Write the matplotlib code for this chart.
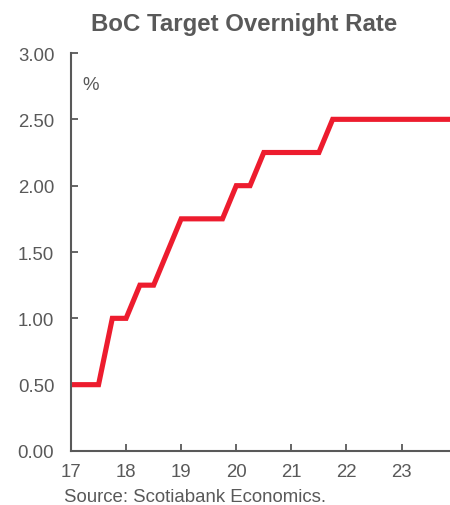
import matplotlib
matplotlib.use("Agg")
import matplotlib.pyplot as plt

# Quarterly target overnight rate (%), 2017Q1 onward; x in years since 2000
quarters = [17.00, 17.25, 17.50, 17.75, 18.00, 18.25, 18.50, 18.75,
            19.00, 19.25, 19.50, 19.75, 20.00, 20.25, 20.50, 20.75,
            21.00, 21.25, 21.50, 21.75, 22.00, 22.25, 22.50, 22.75,
            23.00, 23.25, 23.50, 23.75, 24.00]
rate = [0.50, 0.50, 0.50, 1.00, 1.00, 1.25, 1.25, 1.50,
        1.75, 1.75, 1.75, 1.75, 2.00, 2.00, 2.25, 2.25,
        2.25, 2.25, 2.25, 2.50, 2.50, 2.50, 2.50, 2.50,
        2.50, 2.50, 2.50, 2.50, 2.50]
x_ticks = [17, 18, 19, 20, 21, 22, 23]
y_ticks = [0.0, 0.5, 1.0, 1.5, 2.0, 2.5, 3.0]

plt.rcParams['font.family'] = ['Liberation Sans', 'DejaVu Sans']
grey = '#595959'
red = '#ED1C2E'
fs = 13.4

fig = plt.figure(figsize=(4.5, 5.06), dpi=100)
ax = fig.add_axes([71 / 450, 54 / 506, 1 - 71 / 450, (452 - 54) / 506])

ax.plot(quarters, rate, color=red, lw=3.7, solid_joinstyle='miter',
        solid_capstyle='butt')

ax.set_xlim(17, 23.88)
ax.set_ylim(0, 3)
ax.set_xticks(x_ticks)
ax.set_xticklabels([str(t) for t in x_ticks])
ax.set_yticks(y_ticks)
ax.set_yticklabels([f"{t:.2f}" for t in y_ticks])

for side in ('top', 'right'):
    ax.spines[side].set_visible(False)
for side in ('left', 'bottom'):
    ax.spines[side].set_color(grey)
    ax.spines[side].set_linewidth(1.5)

ax.tick_params(axis='both', direction='in', length=5, width=1.3,
               color=grey, labelcolor=grey, labelsize=fs)
ax.tick_params(axis='y', pad=12)
ax.tick_params(axis='x', pad=9)

fig.text(82 / 450, 1 - 86 / 506, '%', fontsize=fs, color=grey,
         va='center', ha='left')

fig.text(244 / 450, 1 - 25 / 506, 'BoC Target Overnight Rate',
         fontsize=17.3, fontweight='bold', color=grey, ha='center', va='center')
fig.text(64 / 450, 1 - 498 / 506, 'Source: Scotiabank Economics.',
         fontsize=fs, color=grey, ha='left', va='center')

fig.savefig('out.png', dpi=100)
